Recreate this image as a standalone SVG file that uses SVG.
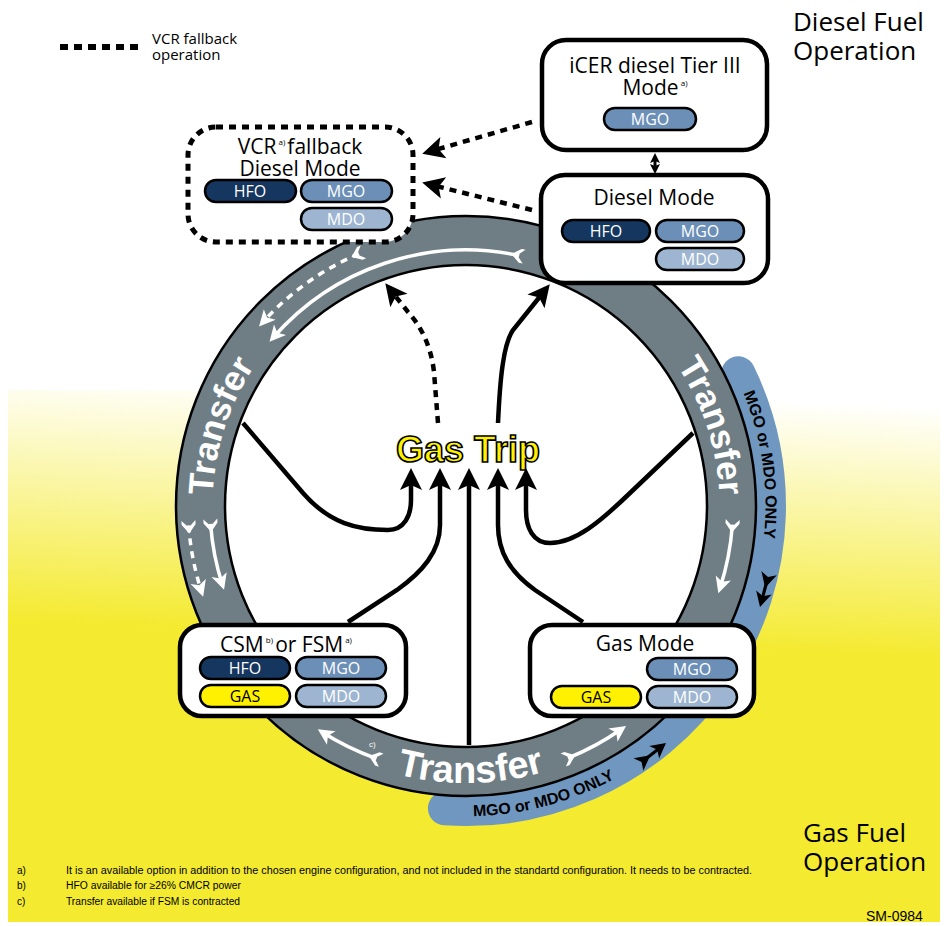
<svg xmlns="http://www.w3.org/2000/svg" width="949" height="926" viewBox="0 0 949 926">
<defs>
<linearGradient id="bg" gradientUnits="userSpaceOnUse" x1="470" y1="388" x2="460" y2="640">
<stop offset="0" stop-color="#f4ea2f" stop-opacity="0"/>
<stop offset="1" stop-color="#f4ea2f" stop-opacity="1"/>
</linearGradient>
<marker id="ah" markerUnits="userSpaceOnUse" orient="auto" markerWidth="40" markerHeight="40" refX="0" refY="0" overflow="visible">
<path d="M6,0 L-16,-11 L-11,0 L-16,11 Z" fill="#000"/>
</marker>
<marker id="ahs" markerUnits="userSpaceOnUse" orient="auto-start-reverse" markerWidth="20" markerHeight="20" refX="0" refY="0" overflow="visible">
<path d="M4,0 L-6,-5 L-4,0 L-6,5 Z" fill="#000"/>
</marker>
<marker id="wh" markerUnits="userSpaceOnUse" orient="auto" markerWidth="30" markerHeight="30" refX="0" refY="0" overflow="visible">
<path d="M5,0 L-11,-8 L-7,0 L-11,8 Z" fill="#fff"/>
</marker>
<marker id="wf" markerUnits="userSpaceOnUse" orient="auto" markerWidth="30" markerHeight="30" refX="0" refY="0" overflow="visible">
<path d="M8,0 L-1,-7 L-5,-7 L2,0 L-5,7 L-1,7 Z" fill="#fff"/>
</marker>
<path id="tpL" d="M227.8,592.7 A253.5,253.5 0 0 1 324.2,295.8"/>
<path id="tpR" d="M607.8,295.8 A253.5,253.5 0 0 1 704.2,592.7"/>
<path id="tpB" d="M307.1,732.9 A277,277 0 0 0 632.7,727.2"/>
<path id="tpMR" d="M685.0,301.7 A299.5,299.5 0 0 1 732.9,642.0"/>
<path id="tpMB" d="M385.6,805.9 A311.5,311.5 0 0 0 685.6,725.6"/>
<g id="barrow">
<path d="M0,0 L-15,-8 L-11,0 L-15,8 Z"/>
<rect x="-30" y="-1.6" width="20" height="3.2"/>
<path d="M-20,0 L-35,-8 L-31,0 L-35,8 Z"/>
</g>
</defs>
<style>
.box{fill:#fff;stroke:#000;stroke-width:4.5}
.vcr{fill:#fff;stroke:#000;stroke-width:5;stroke-dasharray:7 6}
.ttl{font-family:"Open Sans","Noto Sans",sans-serif;font-size:21px;fill:#000;text-anchor:middle}
.sup{font-size:8px}
.pill{stroke:#000;stroke-width:2.5}
.hfo{fill:#15365e}
.mgo{fill:#6c8fb8}
.mdo{fill:#9db5d0}
.gas{fill:#fff100}
.pt{font-family:"Open Sans","Noto Sans",sans-serif;font-size:16px;fill:#fff;text-anchor:middle}
.pg{fill:#000}
.con{fill:none;stroke:#000;stroke-width:4.5}
.dash{stroke-dasharray:7 6}
.wa{fill:none;stroke:#fff;stroke-width:3.5}
.tr{font-family:"Liberation Sans",Arial,sans-serif;font-weight:bold;fill:#fff}
.mo{font-family:"Liberation Sans",Arial,sans-serif;font-weight:bold;font-size:16px;fill:#000}
.big{font-family:"Open Sans","Noto Sans",sans-serif;font-size:26px;fill:#000}
.fn{font-family:"Liberation Sans",Arial,sans-serif;font-size:10px;fill:#000}
</style>
<rect x="0" y="0" width="949" height="926" fill="#fff"/>
<rect x="8" y="390" width="932" height="532" fill="url(#bg)"/>

<g id="ring">
<path d="M738.3,373.2 A303,303 0 0 1 444.9,808.3" fill="none" stroke="#7097bf" stroke-width="34" stroke-linecap="round"/>
<circle cx="466" cy="506" r="265.5" fill="none" stroke="#6f7d84" stroke-width="49"/>
<circle cx="466" cy="506" r="290" fill="none" stroke="#000" stroke-width="2.5"/>
<circle cx="466" cy="506" r="241" fill="#fff" stroke="#000" stroke-width="2.5"/>
<text class="tr" font-size="35" text-anchor="middle"><textPath href="#tpL" startOffset="50%">Transfer</textPath></text>
<text class="tr" font-size="35" text-anchor="middle"><textPath href="#tpR" startOffset="50%">Transfer</textPath></text>
<text class="tr" font-size="38" text-anchor="middle"><textPath href="#tpB" startOffset="50%">Transfer</textPath></text>
<text class="mo" text-anchor="middle"><textPath href="#tpMR" startOffset="50%">MGO or MDO ONLY</textPath></text>
<text class="mo" text-anchor="middle"><textPath href="#tpMB" startOffset="50%">MGO or MDO ONLY</textPath></text>
<path class="wa" d="M519.2,255.6 A256,256 0 0 0 272.8,338.0" marker-start="url(#wf)" marker-end="url(#wh)"/>
<path class="wa" d="M358.9,253.8 A274,274 0 0 0 262.4,322.7" stroke-dasharray="7 6" marker-start="url(#wf)" marker-end="url(#wh)"/>
<path class="wa" d="M188.7,525.4 A278,278 0 0 0 201.6,591.9" stroke-dasharray="7 6" marker-start="url(#wf)" marker-end="url(#wh)"/>
<path class="wa" d="M210.6,523.9 A256,256 0 0 0 222.5,585.1" marker-start="url(#wf)" marker-end="url(#wh)"/>
<path class="wa" d="M732.4,524.6 A267,267 0 0 1 719.9,588.5" marker-start="url(#wf)" marker-end="url(#wh)"/>
<path class="wa" d="M376.5,758.6 A268,268 0 0 1 322.0,732.0" marker-start="url(#wf)" marker-end="url(#wh)"/>
<path class="wa" d="M567.9,758.2 A272,272 0 0 0 622.0,728.8" marker-start="url(#wf)" marker-end="url(#wh)"/>
<text x="369" y="747" font-family="Liberation Sans,Arial,sans-serif" font-size="8" fill="#fff">c)</text>
<use href="#barrow" transform="translate(760,607) rotate(105)"/>
<use href="#barrow" transform="translate(666,743) rotate(-38)"/>
</g>

<g id="connectors">
<path class="con" d="M243,423 L303,493 C330,524 358,530 388,530 C404,530 411,516 411,500 L411,474" marker-end="url(#ah)"/>
<path class="con" d="M348,622 L397,590 C422,572 440,552 440,525 L440,474" marker-end="url(#ah)"/>
<path class="con" d="M469,745 L469,474" marker-end="url(#ah)"/>
<path class="con" d="M583,622 L535,590 C510,572 498,552 498,525 L498,474" marker-end="url(#ah)"/>
<path class="con" d="M693,433 L630,493 C600,522 575,543 550,543 C533,543 526,528 526,510 L526,474" marker-end="url(#ah)"/>
<path class="con dash" d="M438,423 L434,372 C431,345 420,325 408,312 L389,288" marker-end="url(#ah)"/>
<path class="con" d="M498,423 C500,380 503,345 513,330 L546,289" marker-end="url(#ah)"/>
<path class="con dash" d="M532,122 L428,152" marker-end="url(#ah)"/>
<path class="con dash" d="M532,210 L428,184" marker-end="url(#ah)"/>
<path d="M655,157 L655,170" fill="none" stroke="#000" stroke-width="3" marker-start="url(#ahs)" marker-end="url(#ahs)"/>
</g>

<g id="gas-trip">
<text x="468" y="462" font-family="Liberation Sans,Arial,sans-serif" font-weight="bold" font-size="36" fill="#fff200" stroke="#000" stroke-width="1.6" text-anchor="middle">Gas Trip</text>
</g>

<g id="icer">
<rect class="box" x="542" y="40" width="225" height="110" rx="24"/>
<text class="ttl" x="655" y="73">iCER diesel Tier III</text>
<text class="ttl" x="655" y="95">Mode<tspan class="sup" dy="-9"> a)</tspan></text>
<rect class="pill mgo" x="604" y="108" width="92" height="22" rx="11"/>
<text class="pt" x="650" y="125">MGO</text>
</g>

<g id="diesel">
<rect class="box" x="541" y="175" width="227" height="108" rx="24"/>
<text class="ttl" x="654" y="205">Diesel Mode</text>
<rect class="pill hfo" x="562" y="220" width="88" height="22" rx="11"/>
<text class="pt" x="606" y="237">HFO</text>
<rect class="pill mgo" x="656" y="220" width="88" height="22" rx="11"/>
<text class="pt" x="700" y="237">MGO</text>
<rect class="pill mdo" x="656" y="248" width="88" height="22" rx="11"/>
<text class="pt" x="700" y="265">MDO</text>
</g>

<g id="vcr">
<rect class="vcr" x="188" y="127" width="225" height="115" rx="28"/>
<text class="ttl" x="300" y="154">VCR<tspan class="sup" dy="-9"> a) </tspan><tspan dy="9">fallback</tspan></text>
<text class="ttl" x="300" y="176">Diesel Mode</text>
<rect class="pill hfo" x="205" y="180" width="91" height="22" rx="11"/>
<text class="pt" x="250" y="197">HFO</text>
<rect class="pill mgo" x="301" y="180" width="91" height="22" rx="11"/>
<text class="pt" x="346" y="197">MGO</text>
<rect class="pill mdo" x="301" y="208" width="91" height="22" rx="11"/>
<text class="pt" x="346" y="225">MDO</text>
</g>

<g id="csm">
<rect class="box" x="180" y="625" width="226" height="91" rx="22"/>
<text class="ttl" x="286" y="652">CSM<tspan class="sup" dy="-9"> b) </tspan><tspan dy="9">or FSM</tspan><tspan class="sup" dy="-9"> a)</tspan></text>
<rect class="pill hfo" x="200" y="657" width="90" height="22" rx="11"/>
<text class="pt" x="245" y="674">HFO</text>
<rect class="pill mgo" x="296" y="657" width="90" height="22" rx="11"/>
<text class="pt" x="341" y="674">MGO</text>
<rect class="pill gas" x="200" y="685" width="90" height="22" rx="11"/>
<text class="pt pg" x="245" y="702">GAS</text>
<rect class="pill mdo" x="296" y="685" width="90" height="22" rx="11"/>
<text class="pt" x="341" y="702">MDO</text>
</g>

<g id="gasmode">
<rect class="box" x="530" y="625" width="224" height="91" rx="22"/>
<text class="ttl" x="645" y="651">Gas Mode</text>
<rect class="pill mgo" x="647" y="658" width="90" height="22" rx="11"/>
<text class="pt" x="692" y="675">MGO</text>
<rect class="pill gas" x="551" y="686" width="90" height="22" rx="11"/>
<text class="pt pg" x="596" y="703">GAS</text>
<rect class="pill mdo" x="647" y="686" width="90" height="22" rx="11"/>
<text class="pt" x="692" y="703">MDO</text>
</g>

<g id="legend">
<path d="M60,47 L142,47" stroke="#000" stroke-width="6" stroke-dasharray="8 6"/>
<text x="152" y="44" font-family="Open Sans,Noto Sans,sans-serif" font-size="15">VCR fallback</text>
<text x="152" y="60" font-family="Open Sans,Noto Sans,sans-serif" font-size="15">operation</text>
</g>

<g id="labels">
<text class="big" x="793" y="31">Diesel Fuel</text>
<text class="big" x="793" y="60">Operation</text>
<text class="big" x="803" y="842">Gas Fuel</text>
<text class="big" x="803" y="871">Operation</text>
<text x="866" y="921" font-family="Liberation Sans,Arial,sans-serif" font-size="14">SM-0984</text>
</g>

<g id="footnotes">
<text class="fn" x="17" y="874">a)</text>
<text class="fn" x="66" y="874" textLength="686" lengthAdjust="spacingAndGlyphs">It is an available option in addition to the chosen engine configuration, and not included in the standartd configuration. It needs to be contracted.</text>
<text class="fn" x="17" y="889">b)</text>
<text class="fn" x="66" y="889" textLength="175" lengthAdjust="spacingAndGlyphs">HFO available for  ≥26% CMCR power</text>
<text class="fn" x="17" y="905">c)</text>
<text class="fn" x="66" y="905" textLength="174" lengthAdjust="spacingAndGlyphs">Transfer available if FSM is contracted</text>
</g>
</svg>
